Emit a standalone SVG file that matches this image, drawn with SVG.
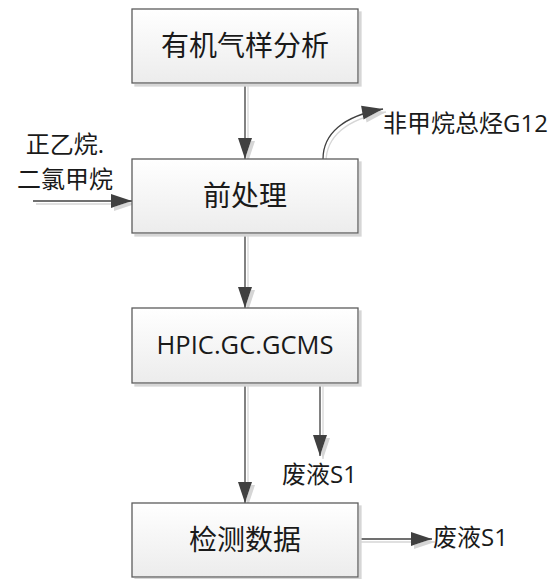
<svg xmlns="http://www.w3.org/2000/svg" width="560" height="579" viewBox="0 0 560 579">
  <defs>
    <linearGradient id="boxfill" x1="0" y1="0" x2="0" y2="1">
      <stop offset="0" stop-color="#ffffff"/>
      <stop offset="1" stop-color="#ececec"/>
    </linearGradient>
    <filter id="sh" filterUnits="userSpaceOnUse" x="0" y="0" width="560" height="579">
      <feOffset in="SourceAlpha" dx="3" dy="3" result="off"/>
      <feGaussianBlur in="off" stdDeviation="0.6" result="blur"/>
      <feFlood flood-color="#d6d6d6" result="col"/>
      <feComposite in="col" in2="blur" operator="in" result="shadow"/>
      <feMerge>
        <feMergeNode in="shadow"/>
        <feMergeNode in="SourceGraphic"/>
      </feMerge>
    </filter>
    <marker id="arr" markerUnits="userSpaceOnUse" markerWidth="21" markerHeight="14" refX="21" refY="7" orient="auto" overflow="visible">
      <path d="M0,0 L21,7 L0,14 Z" fill="#404040"/>
    </marker>
    <style>
      .box { fill: url(#boxfill); stroke: #5c5c5c; stroke-width: 1.3; }
      .btxt { font-family: "Noto Sans CJK SC", sans-serif; font-size: 28px; fill: #1a1a1a; text-anchor: middle; }
      .ltxt { font-family: "Open Sans", "Noto Sans CJK SC", sans-serif; font-size: 25.5px; fill: #1a1a1a; text-anchor: middle; }
      .lbl { font-family: "Open Sans", "Noto Sans CJK SC", sans-serif; font-size: 24px; fill: #1a1a1a; }
      .con { fill: none; stroke: #404040; stroke-width: 1.3; }
    </style>
  </defs>

  <g id="connectors" filter="url(#sh)">
    <path class="con" d="M245,83 V159" marker-end="url(#arr)"/>
    <path class="con" d="M245,233 V308" marker-end="url(#arr)"/>
    <path class="con" d="M245,383 V503" marker-end="url(#arr)"/>
    <path class="con" d="M320,383 V456" marker-end="url(#arr)"/>
    <path class="con" d="M358,539 H432" marker-end="url(#arr)"/>
    <path class="con" d="M33,201 H132" marker-end="url(#arr)"/>
    <path class="con" d="M323,159 C323,134 343,116 383,109" marker-end="url(#arr)"/>
    <path class="con" d="M255,577 V579"/>
  </g>

  <g id="node-analysis">
    <rect class="box" x="132" y="9" width="226" height="74" filter="url(#sh)"/>
    <text class="btxt" x="245" y="56">有机气样分析</text>
  </g>

  <g id="node-pretreat">
    <rect class="box" x="132" y="159" width="226" height="74" filter="url(#sh)"/>
    <text class="btxt" x="245" y="206">前处理</text>
  </g>

  <g id="node-instrument">
    <rect class="box" x="132" y="308" width="226" height="75" filter="url(#sh)"/>
    <text class="ltxt" x="245" y="354">HPIC.GC.GCMS</text>
  </g>

  <g id="node-data">
    <rect class="box" x="132" y="503" width="226" height="74" filter="url(#sh)"/>
    <text class="btxt" x="245" y="550">检测数据</text>
  </g>

  <g id="label-input">
    <text class="lbl" x="65" y="153" font-size="25" text-anchor="middle">正乙烷.</text>
    <text class="lbl" x="65" y="188" font-size="25" text-anchor="middle">二氯甲烷</text>
  </g>

  <g id="label-nmhc">
    <text class="lbl" x="383" y="132" font-size="24.5">非甲烷总烃G12</text>
  </g>

  <g id="label-waste1">
    <text class="lbl" x="282" y="483">废液S1</text>
  </g>

  <g id="label-waste2">
    <text class="lbl" x="433" y="546">废液S1</text>
  </g>
</svg>
